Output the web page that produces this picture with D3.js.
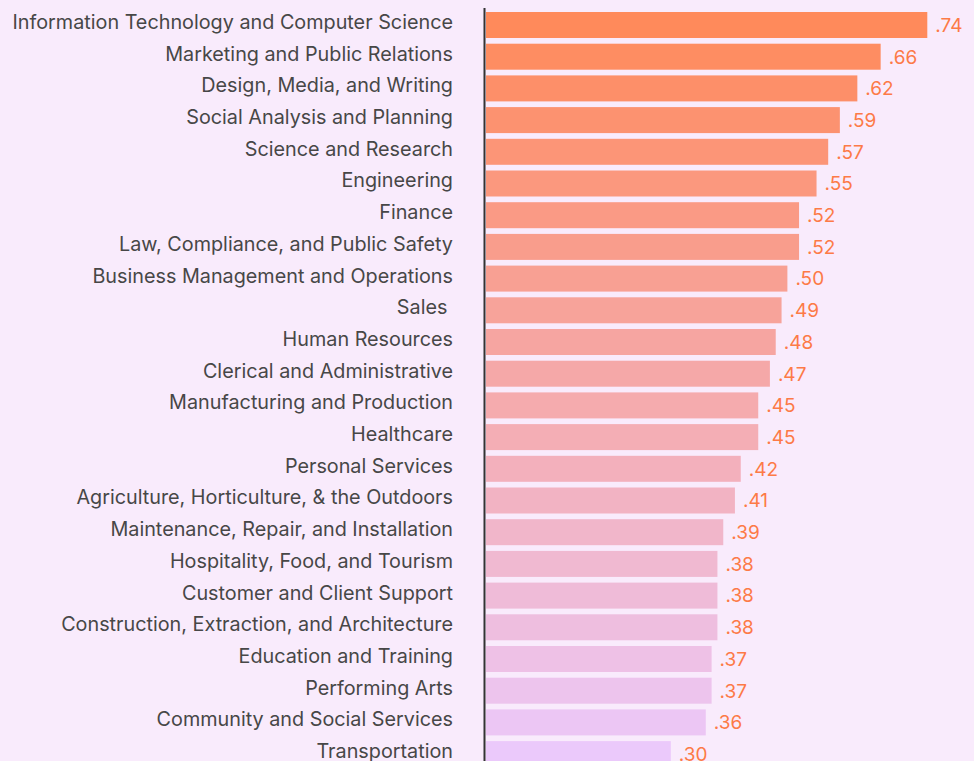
<!DOCTYPE html>
<html>
<head>
<meta charset="utf-8">
<script src="https://cdn.jsdelivr.net/npm/d3@7"></script>
<style>
    html, body { margin: 0; padding: 0; background: #f9ebfc; overflow: hidden; }
    svg { display: block; }
    .cat { font-family: Inter, 'Liberation Sans', Arial, sans-serif; font-size: 19.8px; fill: #474747; white-space: pre; }
    .val { font-family: Inter, 'Liberation Sans', Arial, sans-serif; font-size: 19px; fill: #fd7a47; }
</style>
</head>
<body>
<div id="chart"></div>
<script>
// categories, top to bottom
const categories = [
    'Information Technology and Computer Science',
    'Marketing and Public Relations',
    'Design, Media, and Writing',
    'Social Analysis and Planning',
    'Science and Research',
    'Engineering',
    'Finance',
    'Law, Compliance, and Public Safety',
    'Business Management and Operations',
    'Sales ',
    'Human Resources',
    'Clerical and Administrative',
    'Manufacturing and Production',
    'Healthcare',
    'Personal Services',
    'Agriculture, Horticulture, & the Outdoors',
    'Maintenance, Repair, and Installation',
    'Hospitality, Food, and Tourism',
    'Customer and Client Support',
    'Construction, Extraction, and Architecture',
    'Education and Training',
    'Performing Arts',
    'Community and Social Services',
    'Transportation'
];

const values = [
    0.74, 0.66, 0.62, 0.59, 0.57, 0.55, 0.52, 0.52, 0.50, 0.49, 0.48, 0.47,
    0.45, 0.45, 0.42, 0.41, 0.39, 0.38, 0.38, 0.38, 0.37, 0.37, 0.36, 0.30
];

const width = 974;
const height = 761;

const svg = d3.select('#chart')
    .append('svg')
    .attr('width', width)
    .attr('height', height);

// bars start a little left of zero in the original
const x = d3.scaleLinear()
    .domain([-0.017, 0.74])
    .range([486, 927.3]);

const y = d3.scaleBand()
    .domain(categories)
    .range([9.15, 769.95])
    .paddingInner(0.18)
    .paddingOuter(0.09);

const color = d3.scaleLinear()
    .domain([0, categories.length - 1])
    .range(['#ff8a5b', '#ebc9fb'])
    .interpolate(d3.interpolateRgb);

const data = categories.map((c, i) => ({ cat: c, value: values[i], i: i }));

// bars
svg.append('g')
    .selectAll('rect')
    .data(data)
    .join('rect')
    .attr('x', x.range()[0])
    .attr('y', d => y(d.cat))
    .attr('width', d => x(d.value) - x.range()[0])
    .attr('height', y.bandwidth())
    .attr('fill', d => color(d.i));

// value labels
const fmt = d3.format('.2f');
svg.append('g')
    .selectAll('text')
    .data(data)
    .join('text')
    .attr('class', 'val')
    .attr('x', d => x(d.value) + 8)
    .attr('y', d => y(d.cat) + y.bandwidth() / 2)
    .attr('dy', '0.36em')
    .text(d => fmt(d.value).replace(/^0/, ''));

// category labels
const yAxis = d3.axisLeft(y).tickSize(0).tickPadding(0);
const axisG = svg.append('g')
    .attr('transform', 'translate(453,0)')
    .call(yAxis);
axisG.select('.domain').remove();
axisG.selectAll('text')
    .attr('class', 'cat')
    .attr('dy', '0.2em')
    .attr('fill', null);

// vertical baseline
svg.append('line')
    .attr('x1', 484.5)
    .attr('x2', 484.5)
    .attr('y1', 8)
    .attr('y2', height)
    .attr('stroke', '#333')
    .attr('stroke-width', 2);
</script>
</body>
</html>
